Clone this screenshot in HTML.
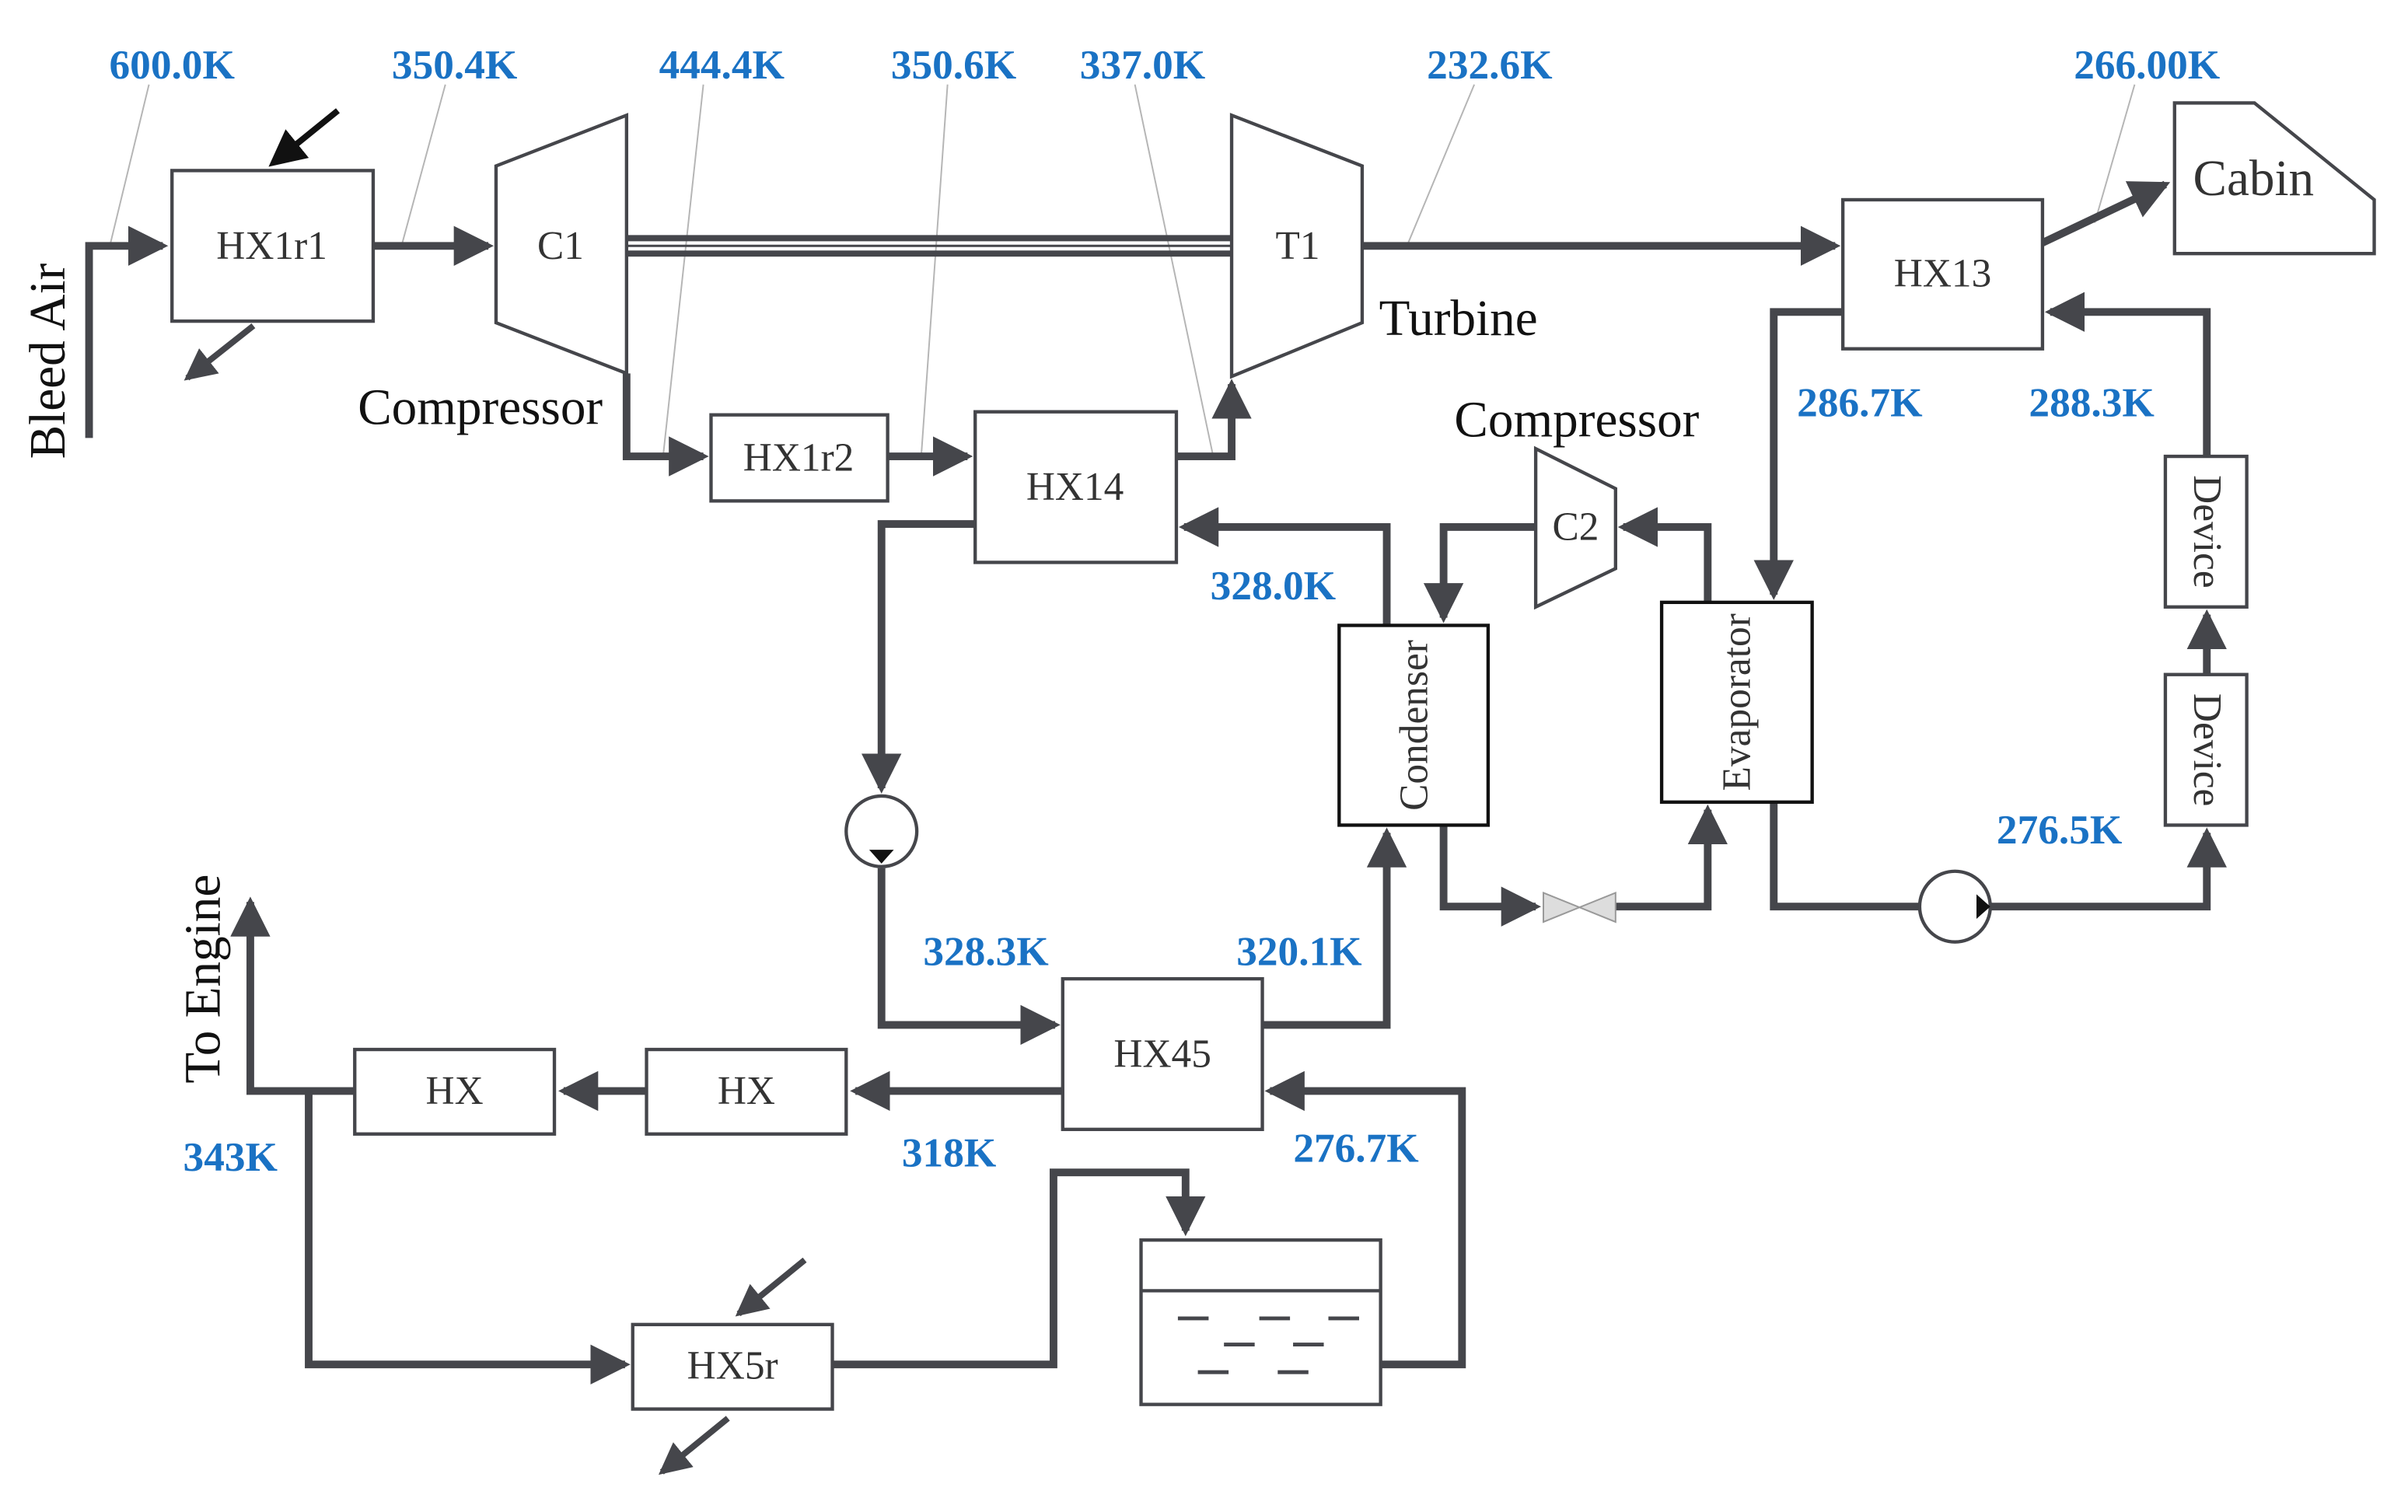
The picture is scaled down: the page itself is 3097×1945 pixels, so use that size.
<!DOCTYPE html>
<html><head><meta charset="utf-8"><style>
html,body{margin:0;padding:0;background:#fff;}
svg{display:block;}
.l{stroke:#45464b;stroke-width:5;fill:none;}
.b{stroke:#45464b;stroke-width:2.2;fill:#fff;}
.t{font-family:"Liberation Serif",serif;font-size:26px;fill:#333;text-anchor:middle;dominant-baseline:central;}
.k{font-family:"Liberation Serif",serif;font-size:27px;font-weight:bold;fill:#1a72c4;text-anchor:middle;}
.g{stroke:#b5b5b5;stroke-width:1;fill:none;}
.big{font-family:"Liberation Serif",serif;font-size:33px;fill:#111;}
</style></head><body>
<svg width="3097" height="1945" viewBox="0 0 1568 984" preserveAspectRatio="none" xmlns="http://www.w3.org/2000/svg">
<defs>
<marker id="a" markerWidth="5.2" markerHeight="5.2" refX="4.5" refY="2.6" orient="auto" markerUnits="strokeWidth"><path d="M0,0 L5.2,2.6 L0,5.2 z" fill="#45464b"/></marker>
<marker id="ak" markerWidth="6" markerHeight="6" refX="5" refY="3" orient="auto" markerUnits="strokeWidth"><path d="M0,0 L6,3 L0,6 z" fill="#111"/></marker>
</defs>
<rect width="1568" height="984" fill="#fff"/>
<path class="g" d="M97,55 L72,158 M290,55 L262,158 M458,55 L432,295 M617,55 L600,295 M739,55 L790,297 M960,55 L917,158 M1390,55 L1364,145"/>
<path class="l" d="M58,285 L58,160 L106,160" marker-end="url(#a)"/>
<path class="l" d="M243,160 L318,160" marker-end="url(#a)"/>
<path d="M220,72 L178,106" stroke="#111" stroke-width="4" marker-end="url(#ak)"/>
<path d="M165,212 L122,246" stroke="#45464b" stroke-width="4" marker-end="url(#a)"/>
<line x1="408" y1="155" x2="802" y2="155" stroke="#45464b" stroke-width="4"/>
<line x1="408" y1="165" x2="802" y2="165" stroke="#45464b" stroke-width="4"/>
<line x1="408" y1="160" x2="802" y2="160" stroke="#45464b" stroke-width="1.5"/>
<path class="l" d="M887,160 L1195,160" marker-end="url(#a)"/>
<path class="l" d="M1330,158 L1410,120" marker-end="url(#a)"/>
<path class="l" d="M408,243 L408,297 L458,297" marker-end="url(#a)"/>
<path class="l" d="M578,297 L630,297" marker-end="url(#a)"/>
<path class="l" d="M766,297 L802,297 L802,250" marker-end="url(#a)"/>
<path class="l" d="M903,407 L903,343 L771,343" marker-end="url(#a)"/>
<path class="l" d="M635,341 L574,341 L574,513" marker-end="url(#a)"/>
<path class="l" d="M574,565 L574,667 L687,667" marker-end="url(#a)"/>
<path class="l" d="M822,667 L903,667 L903,542" marker-end="url(#a)"/>
<path class="l" d="M1000,343 L940,343 L940,402" marker-end="url(#a)"/>
<path class="l" d="M1112,392 L1112,343 L1057,343" marker-end="url(#a)"/>
<path class="l" d="M940,537 L940,590 L1000,590" marker-end="url(#a)"/>
<path class="l" d="M1052,590 L1112,590 L1112,527" marker-end="url(#a)"/>
<path class="l" d="M1200,203 L1155,203 L1155,387" marker-end="url(#a)"/>
<path class="l" d="M1155,522 L1155,590 L1250,590"/>
<path class="l" d="M1296,590 L1437,590 L1437,542" marker-end="url(#a)"/>
<path class="l" d="M1437,439 L1437,400" marker-end="url(#a)"/>
<path class="l" d="M1437,297 L1437,203 L1335,203" marker-end="url(#a)"/>
<path class="l" d="M692,710 L557,710" marker-end="url(#a)"/>
<path class="l" d="M421,710 L367,710" marker-end="url(#a)"/>
<path class="l" d="M231,710 L163,710 L163,587" marker-end="url(#a)"/>
<path class="l" d="M201,710 L201,888 L407,888" marker-end="url(#a)"/>
<path d="M524,820 L481,855" stroke="#45464b" stroke-width="4" marker-end="url(#a)"/>
<path d="M474,923 L431,958" stroke="#45464b" stroke-width="4" marker-end="url(#a)"/>
<path class="l" d="M542,888 L686,888 L686,763 L772,763 L772,801" marker-end="url(#a)"/>
<path class="l" d="M899,888 L952,888 L952,710 L827,710" marker-end="url(#a)"/>
<rect class="b" x="112" y="111" width="131" height="98"/><text class="t" x="177" y="160">HX1r1</text>
<polygon class="b" points="323,108 408,75 408,243 323,210"/><text class="t" x="365" y="160">C1</text>
<polygon class="b" points="802,75 887,108 887,210 802,245"/><text class="t" x="845" y="160">T1</text>
<rect class="b" x="1200" y="130" width="130" height="97"/><text class="t" x="1265" y="178">HX13</text>
<polygon class="b" points="1416,67 1468,67 1546,130 1546,165 1416,165"/><text x="1428" y="127" style="font-family:'Liberation Serif',serif;font-size:33px;fill:#333">Cabin</text>
<rect class="b" x="463" y="270" width="115" height="56"/><text class="t" x="520" y="298">HX1r2</text>
<rect class="b" x="635" y="268" width="131" height="98"/><text class="t" x="700" y="317">HX14</text>
<rect class="b" x="872" y="407" width="97" height="130" style="stroke:#111"/><text class="t" transform="translate(921,472) rotate(-90)">Condenser</text>
<polygon class="b" points="1000,292 1052,318 1052,370 1000,395"/><text class="t" x="1026" y="343">C2</text>
<rect class="b" x="1082" y="392" width="98" height="130" style="stroke:#111"/><text class="t" transform="translate(1131,457) rotate(-90)">Evaporator</text>
<rect class="b" x="1410" y="297" width="53" height="98"/><text class="t" transform="translate(1437,346) rotate(90)">Device</text>
<rect class="b" x="1410" y="439" width="53" height="98"/><text class="t" transform="translate(1437,488) rotate(90)">Device</text>
<circle class="b" cx="574" cy="541" r="23"/><polygon points="566,553 582,553 574,562" fill="#111"/>
<circle class="b" cx="1273" cy="590" r="23"/><polygon points="1287,582 1287,598 1296,590" fill="#111"/>
<polygon points="1005,581 1052,600 1052,581 1005,600" fill="#ddd" stroke="#999" stroke-width="1"/>
<rect class="b" x="692" y="637" width="130" height="98"/><text class="t" x="757" y="686">HX45</text>
<rect class="b" x="421" y="683" width="130" height="55"/><text class="t" x="486" y="710">HX</text>
<rect class="b" x="231" y="683" width="130" height="55"/><text class="t" x="296" y="710">HX</text>
<rect class="b" x="412" y="862" width="130" height="55"/><text class="t" x="477" y="889">HX5r</text>
<rect class="b" x="743" y="807" width="156" height="107"/>
<line x1="743" y1="840" x2="899" y2="840" stroke="#45464b" stroke-width="2.2"/>
<path d="M767,858h20M820,858h20M865,858h20M797,875h20M842,875h20M780,893h20M832,893h20" stroke="#45464b" stroke-width="2.5"/>
<text class="big" transform="translate(42,235) rotate(-90)" text-anchor="middle">Bleed Air</text>
<text class="big" transform="translate(143,637) rotate(-90)" text-anchor="middle">To Engine</text>
<text class="big" x="233" y="276">Compressor</text>
<text class="big" x="898" y="218">Turbine</text>
<text class="big" x="947" y="284">Compressor</text>
<text class="k" x="112" y="51">600.0K</text>
<text class="k" x="296" y="51">350.4K</text>
<text class="k" x="470" y="51">444.4K</text>
<text class="k" x="621" y="51">350.6K</text>
<text class="k" x="744" y="51">337.0K</text>
<text class="k" x="970" y="51">232.6K</text>
<text class="k" x="1398" y="51">266.00K</text>
<text class="k" x="1211" y="271">286.7K</text>
<text class="k" x="1362" y="271">288.3K</text>
<text class="k" x="829" y="390">328.0K</text>
<text class="k" x="1341" y="549">276.5K</text>
<text class="k" x="642" y="628">328.3K</text>
<text class="k" x="846" y="628">320.1K</text>
<text class="k" x="618" y="759">318K</text>
<text class="k" x="883" y="756">276.7K</text>
<text class="k" x="150" y="762">343K</text>
</svg>
</body></html>
